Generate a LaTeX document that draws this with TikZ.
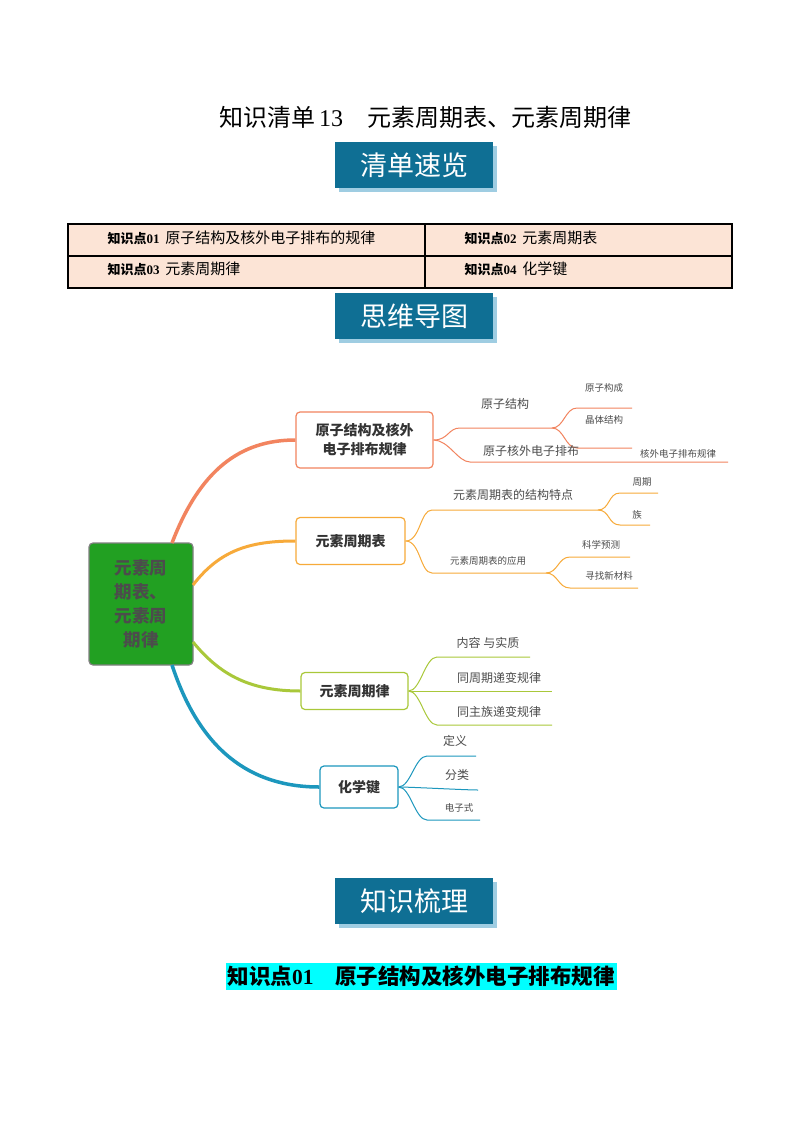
\documentclass[tikz,border=0pt]{standalone}
\usepackage{fontspec}
\setmainfont{Liberation Serif}
\newfontfamily\cjk{Noto Sans CJK SC}
\begin{document}
\begin{tikzpicture}[x=1pt,y=-1pt,
  banner/.style={fill=bannerblue,text=white,minimum width=158pt,minimum height=46pt,font=\cjk\fontsize{27}{27}\selectfont},
  topic/.style={draw=#1,line width=1.2pt,rounded corners=4pt,fill=white,align=center,font=\cjk\bfseries\fontsize{14}{19}\selectfont,text=black!80},
  leaf/.style={font=\cjk\fontsize{12}{12}\selectfont,text=black!70,inner sep=1pt},
  sleaf/.style={font=\cjk\fontsize{9.5}{10}\selectfont,text=black!70,inner sep=1pt},
  br/.style={draw=#1,line width=1pt},
  cell/.style={font=\cjk\fontsize{15}{15}\selectfont,anchor=west}]
\definecolor{bannerblue}{HTML}{0F6F94}
\definecolor{shadowblue}{HTML}{9FCDE2}
\definecolor{peach}{HTML}{FCE4D6}
\definecolor{c1}{HTML}{F2845F}
\definecolor{c2}{HTML}{F7AA3A}
\definecolor{c3}{HTML}{A9C83A}
\definecolor{c4}{HTML}{1C97BD}
\definecolor{cgreen}{HTML}{22A022}
\definecolor{hl}{HTML}{00FFFF}
\useasboundingbox[fill=white] (0,0) rectangle (800,1132);

\node[font=\fontsize{24}{24}\selectfont] (title) at (425,117) {{\cjk 知识清单}\,13\quad{\cjk 元素周期表、元素周期律}};

% banners
\foreach \n/\y/\t in {b1/165/清单速览,b2/316/思维导图,b3/901/知识梳理}{
  \fill[shadowblue] (339,\y-19) rectangle (497,\y+27);
  \node[banner] (\n) at (414,\y) {\t};
}

% table
\fill[peach] (68,224) rectangle (732,288);
\draw[line width=1.6pt] (68,224) rectangle (732,288) (68,256) -- (732,256) (425,224) -- (425,288);
\node[cell] (t1) at (104,238) {{\bfseries\fontsize{13}{13}\selectfont 知识点\fontspec{Liberation Serif}01}\, 原子结构及核外电子排布的规律};
\node[cell] (t2) at (461,238) {{\bfseries\fontsize{13}{13}\selectfont 知识点\fontspec{Liberation Serif}02}\, 元素周期表};
\node[cell] (t3) at (104,269) {{\bfseries\fontsize{13}{13}\selectfont 知识点\fontspec{Liberation Serif}03}\, 元素周期律};
\node[cell] (t4) at (461,269) {{\bfseries\fontsize{13}{13}\selectfont 知识点\fontspec{Liberation Serif}04}\, 化学键};

% central
\node[draw=gray,line width=1.2pt,fill=cgreen,rounded corners=4pt,minimum width=104pt,minimum height=122pt,align=center,
  font=\cjk\bfseries\fontsize{17.5}{24}\selectfont,text=black!70] (c) at (141,604) {元素周\\期表、\\元素周\\期律};

\node[topic=c1,minimum width=137pt,minimum height=56pt] (n1) at (364.5,440) {原子结构及核外\\电子排布规律};
\node[topic=c2,minimum width=109pt,minimum height=47pt] (n2) at (350.5,541) {元素周期表};
\node[topic=c3,minimum width=107pt,minimum height=37pt] (n3) at (354.5,691) {元素周期律};
\node[topic=c4,minimum width=78pt,minimum height=42pt] (n4) at (359,787) {化学键};

\draw[c1,line width=3.5pt] (172,543) .. controls (200,470) and (240,440) .. (n1.west);
\draw[c2,line width=3pt] (193,585) .. controls (220,550) and (250,541) .. (n2.west);
\draw[c3,line width=3pt] (193,642) .. controls (220,675) and (250,691) .. (n3.west);
\draw[c4,line width=3.5pt] (172,665) .. controls (200,750) and (250,787) .. (n4.west);

% branch 1
\coordinate (a1) at (460,428); \coordinate (a2) at (552,428);
\draw[br=c1] (n1.east) .. controls +(15,0) and +(-12,0) .. (a1) -- (a2);
\node[leaf,anchor=south] (l11) at (505,411) {原子结构};
\coordinate (a3) at (577,408); \coordinate (a4) at (632,408);
\coordinate (a5) at (577,448); \coordinate (a6) at (632,448);
\draw[br=c1] (a2) .. controls +(12,0) and +(-12,0) .. (a3) -- (a4);
\draw[br=c1] (a2) .. controls +(12,0) and +(-12,0) .. (a5) -- (a6);
\node[sleaf] (l111) at (604,388) {原子构成};
\node[sleaf] (l112) at (604,420) {晶体结构};
\coordinate (a7) at (470,462); \coordinate (a8) at (728,462);
\draw[br=c1] (n1.east) .. controls +(15,0) and +(-12,0) .. (a7) -- (a8);
\node[leaf] (l12) at (531,451) {原子核外电子排布};
\node[sleaf] (l121) at (678,454) {核外电子排布规律};

% branch 2
\coordinate (b1) at (432,510); \coordinate (b2) at (598,510);
\draw[br=c2] (n2.east) .. controls +(15,0) and +(-12,0) .. (b1) -- (b2);
\node[leaf] (l21) at (513,495) {元素周期表的结构特点};
\coordinate (b3) at (620,493); \coordinate (b4) at (658,493);
\coordinate (b5) at (620,525); \coordinate (b6) at (650,525);
\draw[br=c2] (b2) .. controls +(12,0) and +(-12,0) .. (b3) -- (b4);
\draw[br=c2] (b2) .. controls +(12,0) and +(-12,0) .. (b5) -- (b6);
\node[sleaf] (l211) at (642,482) {周期};
\node[sleaf] (l212) at (637,515) {族};
\coordinate (b7) at (432,573); \coordinate (b8) at (546,573);
\draw[br=c2] (n2.east) .. controls +(15,0) and +(-12,0) .. (b7) -- (b8);
\node[sleaf] (l22) at (488,561) {元素周期表的应用};
\coordinate (b9) at (570,557); \coordinate (b10) at (630,557);
\coordinate (b11) at (570,588); \coordinate (b12) at (638,588);
\draw[br=c2] (b8) .. controls +(12,0) and +(-12,0) .. (b9) -- (b10);
\draw[br=c2] (b8) .. controls +(12,0) and +(-12,0) .. (b11) -- (b12);
\node[sleaf] (l221) at (601,545) {科学预测};
\node[sleaf] (l222) at (609,576) {寻找新材料};

% branch 3
\coordinate (d1) at (437,657); \coordinate (d2) at (530,657);
\coordinate (d3) at (430,691); \coordinate (d4) at (552,691);
\coordinate (d5) at (437,725); \coordinate (d6) at (552,725);
\draw[br=c3] (n3.east) .. controls +(12,0) and +(-12,0) .. (d1) -- (d2);
\draw[br=c3] (n3.east) -- (d4);
\draw[br=c3] (n3.east) .. controls +(12,0) and +(-12,0) .. (d5) -- (d6);
\node[leaf] (l31) at (488,643) {内容 与实质};
\node[leaf] (l32) at (499,678) {同周期递变规律};
\node[leaf] (l33) at (499,712) {同主族递变规律};

% branch 4
\coordinate (e1) at (427,756); \coordinate (e2) at (476,756);
\coordinate (e3) at (478,790);
\coordinate (e5) at (427,820); \coordinate (e6) at (480,820);
\draw[br=c4] (n4.east) .. controls +(12,0) and +(-12,0) .. (e1) -- (e2);
\draw[br=c4] (n4.east) .. controls +(12,0) and +(-12,0) .. (e3);
\draw[br=c4] (n4.east) .. controls +(12,0) and +(-12,0) .. (e5) -- (e6);
\node[leaf] (l41) at (455,741) {定义};
\node[leaf] (l42) at (457,775) {分类};
\node[sleaf] (l43) at (459,808) {电子式};

% bottom heading
\node[fill=hl,inner sep=2pt,minimum height=27pt,font=\bfseries\fontsize{21.5}{21.5}\selectfont] (h) at (421,976)
  {{\cjk\bfseries 知识点}01\quad{\cjk\bfseries 原子结构及核外电子排布规律}};
\end{tikzpicture}
\end{document}
